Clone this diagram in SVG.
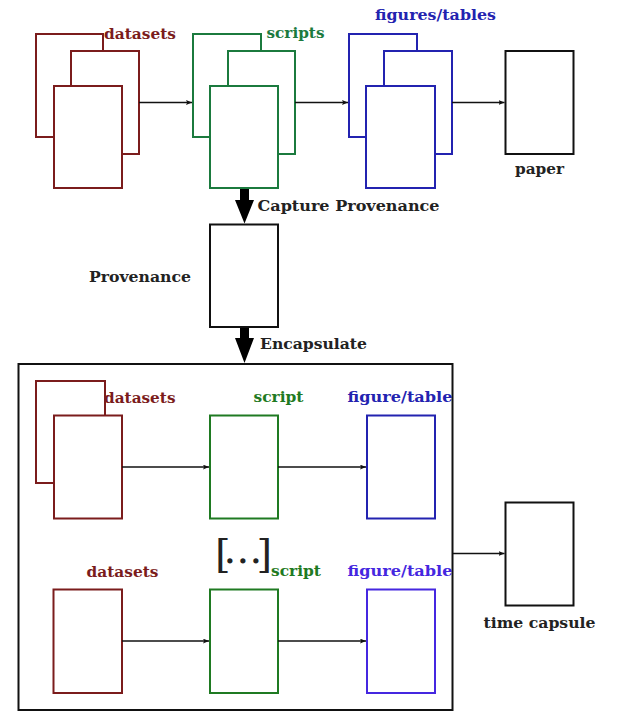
<svg xmlns="http://www.w3.org/2000/svg" width="621" height="728" viewBox="0 0 621 728">
<defs>
<style>
rect{fill:#fff;stroke-width:2}
.red{stroke:#7b1c1c}.grn{stroke:#1b7a3e}.grn2{stroke:#1f7a22}.blu{stroke:#2323b0}.blu2{stroke:#4527e0}.blk{stroke:#111}
text{font-family:"DejaVu Serif","Liberation Serif",serif;font-weight:bold;font-size:15.5px}
.tr{fill:#7b1c1c}.tg{fill:#1b7a3e}.tg2{fill:#1f7a22}.tb{fill:#2323b0}.tb2{fill:#4527e0}.tk{fill:#222}
.c{stroke:#111;stroke-width:1.6;fill:none;marker-end:url(#ah)}
</style>
<marker id="ah" viewBox="0 0 10 8" refX="10" refY="4" markerWidth="6" markerHeight="5" orient="auto" markerUnits="userSpaceOnUse"><path d="M0,0 L10,4 L0,8 L2,4 Z" fill="#111"/></marker>
</defs>
<g id="container"><rect class="blk" x="18.5" y="364" width="434" height="346"/></g>
<g id="datasets">
<rect class="red" x="36" y="34" width="67" height="103"/>
<rect class="red" x="71" y="51" width="68" height="103"/>
<rect class="red" x="54" y="86" width="68" height="102"/>
<text class="tr" x="104" y="39" textLength="72" lengthAdjust="spacingAndGlyphs">datasets</text>
</g>
<g id="scripts">
<rect class="grn" x="193" y="34" width="68" height="103"/>
<rect class="grn" x="228" y="51" width="67" height="103"/>
<rect class="grn" x="210" y="86" width="68" height="102"/>
<text class="tg" x="266.5" y="38" textLength="58" lengthAdjust="spacingAndGlyphs">scripts</text>
</g>
<g id="figures">
<rect class="blu" x="349" y="34" width="68" height="103"/>
<rect class="blu" x="384" y="51" width="68" height="103"/>
<rect class="blu" x="366" y="86" width="69" height="102"/>
<text class="tb" x="375" y="20" textLength="121" lengthAdjust="spacingAndGlyphs">figures/tables</text>
</g>
<g id="paper">
<rect class="blk" x="505.5" y="51" width="68" height="103"/>
<text class="tk" x="515" y="174" textLength="49" lengthAdjust="spacingAndGlyphs">paper</text>
</g>
<g id="provenance">
<rect class="blk" x="210" y="224.5" width="68" height="102.5"/>
<text class="tk" x="89" y="282" textLength="102" lengthAdjust="spacingAndGlyphs">Provenance</text>
</g>
<g id="row1-datasets">
<rect class="red" x="36" y="381" width="69" height="102"/>
<rect class="red" x="54" y="415.5" width="68" height="103"/>
<text class="tr" x="104" y="403" textLength="71.5" lengthAdjust="spacingAndGlyphs">datasets</text>
</g>
<g id="row1-script">
<rect class="grn2" x="210" y="415.5" width="68" height="103"/>
<text class="tg2" x="253.5" y="401.5" textLength="50" lengthAdjust="spacingAndGlyphs">script</text>
</g>
<g id="row1-figure">
<rect class="blu" x="367" y="415.5" width="68" height="103"/>
<text class="tb" x="347.5" y="402" textLength="105" lengthAdjust="spacingAndGlyphs">figure/table</text>
</g>
<g id="row2-datasets">
<rect class="red" x="53.5" y="589.5" width="68.5" height="103.5"/>
<text class="tr" x="86.5" y="577" textLength="72" lengthAdjust="spacingAndGlyphs">datasets</text>
</g>
<g id="row2-script">
<rect class="grn2" x="210" y="589.5" width="68" height="103.5"/>
<text class="tg2" x="271" y="576" textLength="50" lengthAdjust="spacingAndGlyphs">script</text>
</g>
<g id="row2-figure">
<rect class="blu2" x="367" y="589.5" width="68" height="103.5"/>
<text class="tb2" x="347.5" y="576" textLength="105" lengthAdjust="spacingAndGlyphs">figure/table</text>
</g>
<g id="ellipsis">
<text class="tk" x="215 223.6 236.6 249.6 256.4" y="567 563 563 563 567" style="font-size:40px;font-weight:normal">[...]</text>
</g>
<g id="time-capsule">
<rect class="blk" x="505.5" y="502.5" width="68" height="103"/>
<text class="tk" x="483.5" y="628" textLength="112" lengthAdjust="spacingAndGlyphs">time capsule</text>
</g>
<g id="connectors">
<line class="c" x1="139" y1="102.5" x2="192" y2="102.5"/>
<line class="c" x1="295" y1="102.5" x2="348" y2="102.5"/>
<line class="c" x1="452" y1="102.5" x2="504.5" y2="102.5"/>
<line class="c" x1="122" y1="467" x2="209" y2="467"/>
<line class="c" x1="278" y1="467" x2="366" y2="467"/>
<line class="c" x1="122" y1="641" x2="209" y2="641"/>
<line class="c" x1="278" y1="641" x2="366" y2="641"/>
<line class="c" x1="452.5" y1="553.5" x2="504.5" y2="553.5"/>
<path d="M240,189 H249 V200 H254 L244.5,223.5 L235,200 H240 Z" fill="#000"/>
<path d="M240,328 H249 V338 H254 L244.5,363 L235,338 H240 Z" fill="#000"/>
<text class="tk" x="257.5" y="211" textLength="182" lengthAdjust="spacingAndGlyphs">Capture Provenance</text>
<text class="tk" x="260" y="349" textLength="107" lengthAdjust="spacingAndGlyphs">Encapsulate</text>
</g>
</svg>
